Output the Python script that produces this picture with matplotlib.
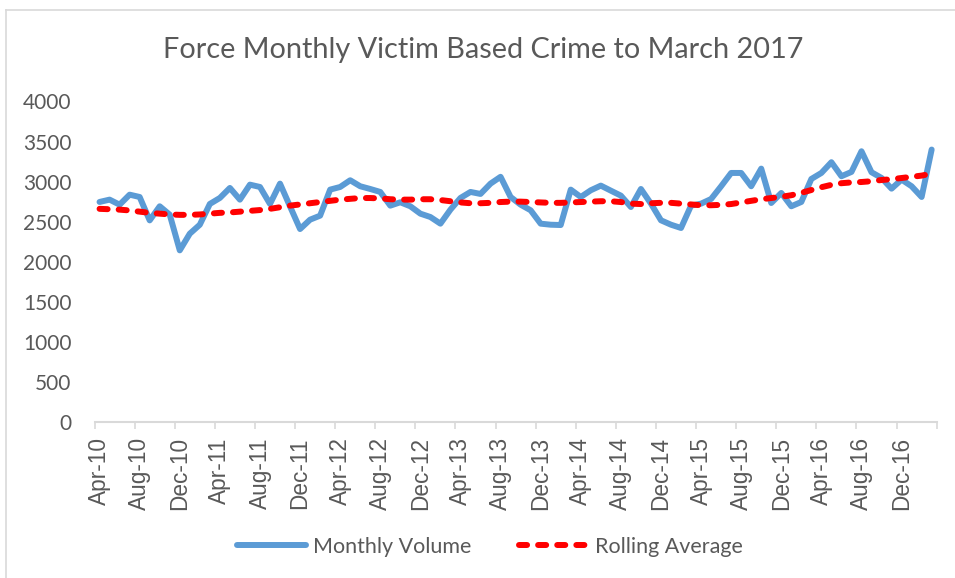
import matplotlib.pyplot as plt
from matplotlib.lines import Line2D

# Monthly victim based crime, Apr-10 to Mar-17
months = [
    "Apr-10", "May-10", "Jun-10", "Jul-10", "Aug-10", "Sep-10", "Oct-10", "Nov-10", "Dec-10", "Jan-11", "Feb-11", "Mar-11",
    "Apr-11", "May-11", "Jun-11", "Jul-11", "Aug-11", "Sep-11", "Oct-11", "Nov-11", "Dec-11", "Jan-12", "Feb-12", "Mar-12",
    "Apr-12", "May-12", "Jun-12", "Jul-12", "Aug-12", "Sep-12", "Oct-12", "Nov-12", "Dec-12", "Jan-13", "Feb-13", "Mar-13",
    "Apr-13", "May-13", "Jun-13", "Jul-13", "Aug-13", "Sep-13", "Oct-13", "Nov-13", "Dec-13", "Jan-14", "Feb-14", "Mar-14",
    "Apr-14", "May-14", "Jun-14", "Jul-14", "Aug-14", "Sep-14", "Oct-14", "Nov-14", "Dec-14", "Jan-15", "Feb-15", "Mar-15",
    "Apr-15", "May-15", "Jun-15", "Jul-15", "Aug-15", "Sep-15", "Oct-15", "Nov-15", "Dec-15", "Jan-16", "Feb-16", "Mar-16",
    "Apr-16", "May-16", "Jun-16", "Jul-16", "Aug-16", "Sep-16", "Oct-16", "Nov-16", "Dec-16", "Jan-17", "Feb-17", "Mar-17",
]

monthly_volume = [
    2746, 2775, 2712, 2837, 2808, 2516, 2692, 2587, 2142, 2350, 2462, 2721,
    2796, 2921, 2775, 2962, 2933, 2721, 2975, 2690, 2408, 2525, 2575, 2900,
    2933, 3017, 2942, 2908, 2871, 2700, 2742, 2692, 2600, 2558, 2475, 2650,
    2796, 2871, 2846, 2975, 3060, 2808, 2712, 2642, 2475, 2462, 2458, 2900,
    2808, 2892, 2950, 2887, 2825, 2683, 2908, 2725, 2517, 2462, 2421, 2700,
    2725, 2783, 2942, 3108, 3108, 2942, 3162, 2733, 2858, 2692, 2746, 3033,
    3108, 3242, 3067, 3121, 3379, 3117, 3046, 2912, 3025, 2942, 2808, 3400,
]

rolling_average = [
    2660, 2655, 2650, 2640, 2625, 2610, 2600, 2590, 2585, 2585, 2590, 2600,
    2610, 2615, 2625, 2635, 2645, 2660, 2680, 2700, 2715, 2730, 2745, 2760,
    2775, 2785, 2795, 2795, 2790, 2780, 2775, 2775, 2780, 2780, 2770, 2755,
    2740, 2730, 2730, 2735, 2745, 2750, 2750, 2745, 2740, 2735, 2735, 2740,
    2745, 2750, 2755, 2755, 2745, 2725, 2720, 2730, 2735, 2735, 2725, 2715,
    2705, 2705, 2710, 2720, 2740, 2760, 2780, 2795, 2810, 2830, 2860, 2895,
    2930, 2960, 2980, 2990, 2995, 3005, 3020, 3030, 3045, 3060, 3075, 3100,
]

y_ticks = [0, 500, 1000, 1500, 2000, 2500, 3000, 3500, 4000]

TEXT = "#595959"
AXIS = "#D9D9D9"
BLUE = "#5B9BD5"
RED = "#FF0000"
UI_FONT = ["Lato", "DejaVu Sans"]

fig = plt.figure(figsize=(9.55, 5.78), dpi=100)
ax = fig.add_axes([0.0990, 0.2700, 0.8818, 0.5544])

x = list(range(len(months)))
ax.plot(x, monthly_volume, color=BLUE, linewidth=4.3, solid_joinstyle="round",
        solid_capstyle="round", label="Monthly Volume", zorder=2)
ax.plot(x, rolling_average, color=RED, linewidth=4.3, linestyle=(0, (1.35, 1.85)),
        dash_capstyle="round", label="Rolling Average", zorder=3)

ax.set_xlim(-0.5, len(months) - 0.5)
ax.set_ylim(0, 4000)

# category labels sit between tick marks, every 4th month
ax.set_xticks([i for i in x if i % 4 == 0])
ax.set_xticklabels([months[i] for i in x if i % 4 == 0], rotation=90,
                   fontfamily="Liberation Sans", fontsize=16.3, color=TEXT)
ax.set_xticks([i - 0.5 for i in range(0, len(months) + 1, 4)], minor=True)
ax.tick_params(axis="x", which="major", length=0, pad=11)
ax.tick_params(axis="x", which="minor", length=5, width=1.2, color=AXIS)

ax.set_yticks(y_ticks)
ax.set_yticklabels([str(v) for v in y_ticks], fontfamily=UI_FONT, fontsize=15, color=TEXT)
ax.tick_params(axis="y", length=0, pad=16.5)

for side in ("top", "right", "left"):
    ax.spines[side].set_visible(False)
ax.spines["bottom"].set_color(AXIS)
ax.spines["bottom"].set_linewidth(1.5)
ax.grid(False)

fig.text(0.506, 0.913, "Force Monthly Victim Based Crime to March 2017", ha="center", va="center",
         fontfamily=UI_FONT, fontsize=20.8, color=TEXT)

handles = [
    Line2D([], [], color=BLUE, linewidth=4.3, solid_capstyle="round"),
    Line2D([], [], color=RED, linewidth=4.3, linestyle=(0, (1.35, 1.85)), dash_capstyle="round"),
]
fig.legend(handles, ["Monthly Volume", "Rolling Average"], loc="center", bbox_to_anchor=(0.513, 0.054),
           ncols=2, frameon=False, handlelength=3.2, handletextpad=0.35, columnspacing=2.2,
           prop={"family": UI_FONT, "size": 15.5}, labelcolor=TEXT)

# thin chart-area border (top and left visible in the reference)
fig.add_artist(Line2D([6 / 955, 6 / 955], [0, 1 - 9.5 / 578], transform=fig.transFigure,
                      color=AXIS, linewidth=1.2))
fig.add_artist(Line2D([6 / 955, 1], [1 - 9.5 / 578, 1 - 9.5 / 578], transform=fig.transFigure,
                      color=AXIS, linewidth=1.2))

fig.savefig("out.png", dpi=100)
